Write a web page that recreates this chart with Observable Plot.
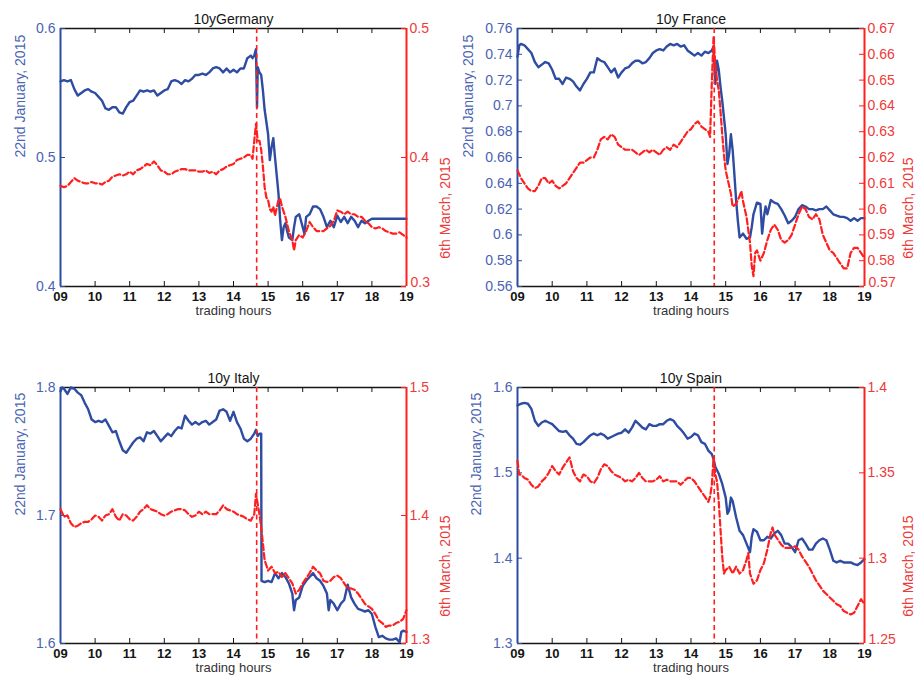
<!DOCTYPE html>
<html><head><meta charset="utf-8">
<script src="https://cdn.jsdelivr.net/npm/d3@7"></script>
<script src="https://cdn.jsdelivr.net/npm/@observablehq/plot@0.6"></script>
<style>
body{margin:0;background:#fff;}
#fig{position:relative;width:917px;height:679px;font-family:"Liberation Sans",Arial,sans-serif;}
.panel{position:absolute;}
.panel svg{position:absolute;left:0;top:0;overflow:visible;}
</style></head><body><div id="fig"></div><script>
// ---------- data: [trading hour, yield] ----------
const hourTicks = [9,10,11,12,13,14,15,16,17,18,19];
const announcementHour = 14.67;

const deTitle = "10yGermany", frTitle = "10y France", itTitle = "10y Italy", esTitle = "10y Spain";
const janLabel = "22nd January, 2015", marLabel = "6th March, 2015", xLabel = "trading hours";

const deJanTicks = [0.4,0.5,0.6];
const deMarTicks = [0.3,0.4,0.5];
const frJanTicks = [0.56,0.58,0.6,0.62,0.64,0.66,0.68,0.7,0.72,0.74,0.76];
const frMarTicks = [0.57,0.58,0.59,0.6,0.61,0.62,0.63,0.64,0.65,0.66,0.67];
const itJanTicks = [1.6,1.7,1.8];
const itMarTicks = [1.3,1.4,1.5];
const esJanTicks = [1.3,1.4,1.5,1.6];
const esMarTicks = [1.25,1.3,1.35,1.4];

const deJan = [[9.0,0.559],[9.1,0.560],[9.2,0.559],[9.3,0.560],[9.4,0.553],[9.5,0.548],[9.6,0.550],[9.7,0.552],[9.8,0.553],[9.9,0.551],
[10.0,0.550],[10.1,0.547],[10.2,0.544],[10.3,0.538],[10.4,0.537],[10.5,0.539],[10.6,0.539],[10.7,0.535],[10.8,0.534],[10.9,0.539],
[11.0,0.543],[11.1,0.544],[11.2,0.548],[11.3,0.552],[11.4,0.551],[11.5,0.552],[11.6,0.551],[11.7,0.552],[11.8,0.548],[11.9,0.550],
[12.0,0.552],[12.1,0.553],[12.2,0.559],[12.3,0.560],[12.4,0.559],[12.5,0.557],[12.6,0.560],[12.7,0.559],[12.8,0.561],[12.9,0.564],
[13.0,0.564],[13.1,0.565],[13.2,0.564],[13.3,0.566],[13.4,0.569],[13.5,0.570],[13.6,0.569],[13.7,0.566],[13.8,0.569],[13.9,0.566],
[14.0,0.568],[14.1,0.566],[14.2,0.569],[14.3,0.569],[14.4,0.577],[14.5,0.579],[14.55,0.577],[14.6,0.579],[14.65,0.584],[14.68,0.539],[14.7,0.570],[14.75,0.566],[14.8,0.564],[14.85,0.552],[14.9,0.537],
[15.0,0.518],[15.05,0.498],[15.1,0.508],[15.15,0.515],[15.2,0.500],[15.3,0.472],[15.35,0.451],[15.4,0.436],[15.45,0.446],[15.5,0.449],[15.55,0.443],[15.6,0.438],[15.7,0.436],[15.75,0.446],[15.8,0.454],[15.9,0.456],
[16.0,0.446],[16.05,0.441],[16.1,0.454],[16.2,0.456],[16.3,0.462],[16.4,0.462],[16.5,0.460],[16.6,0.454],[16.7,0.446],[16.8,0.451],[16.9,0.446],
[17.0,0.455],[17.1,0.450],[17.2,0.454],[17.3,0.449],[17.4,0.454],[17.5,0.451],[17.6,0.446],[17.7,0.451],[17.8,0.449],[17.9,0.451],[18.0,0.4525],[19.0,0.4525]];

const deMar = [[9.0,0.378],[9.1,0.377],[9.2,0.378],[9.3,0.381],[9.4,0.384],[9.5,0.382],[9.6,0.381],[9.7,0.380],[9.8,0.380],[9.9,0.381],
[10.0,0.380],[10.1,0.380],[10.2,0.379],[10.3,0.381],[10.4,0.382],[10.5,0.385],[10.6,0.386],[10.7,0.387],[10.8,0.386],[10.9,0.387],
[11.0,0.389],[11.1,0.387],[11.2,0.390],[11.3,0.391],[11.4,0.393],[11.5,0.395],[11.6,0.394],[11.7,0.397],[11.8,0.394],[11.9,0.390],
[12.0,0.389],[12.1,0.387],[12.2,0.387],[12.3,0.389],[12.4,0.390],[12.5,0.391],[12.6,0.391],[12.7,0.390],[12.8,0.390],[12.9,0.390],
[13.0,0.389],[13.1,0.389],[13.2,0.390],[13.3,0.388],[13.4,0.389],[13.5,0.387],[13.6,0.390],[13.7,0.391],[13.8,0.393],[13.9,0.394],
[14.0,0.395],[14.1,0.398],[14.2,0.399],[14.3,0.400],[14.4,0.402],[14.5,0.402],[14.55,0.399],[14.6,0.413],[14.65,0.426],[14.7,0.413],[14.75,0.413],[14.8,0.406],[14.85,0.393],[14.9,0.377],[14.95,0.369],
[15.0,0.367],[15.05,0.360],[15.1,0.358],[15.15,0.362],[15.2,0.355],[15.3,0.367],[15.35,0.368],[15.4,0.362],[15.5,0.354],[15.6,0.343],[15.7,0.336],[15.75,0.328],[15.8,0.336],[15.9,0.340],
[16.0,0.338],[16.1,0.343],[16.2,0.350],[16.3,0.346],[16.4,0.343],[16.5,0.343],[16.6,0.343],[16.7,0.345],[16.8,0.347],[16.9,0.351],
[17.0,0.359],[17.1,0.358],[17.2,0.356],[17.3,0.358],[17.4,0.356],[17.5,0.356],[17.6,0.354],[17.7,0.354],[17.8,0.351],[17.9,0.349],
[18.0,0.346],[18.1,0.345],[18.2,0.346],[18.3,0.345],[18.4,0.343],[18.5,0.342],[18.6,0.341],[18.7,0.341],[18.8,0.342],[18.9,0.340],[19.0,0.338]];

const frJan = [[9.0,0.738],[9.05,0.747],[9.1,0.748],[9.2,0.747],[9.3,0.744],[9.4,0.741],[9.5,0.734],[9.6,0.730],[9.7,0.732],[9.8,0.734],[9.9,0.733],
[10.0,0.728],[10.1,0.721],[10.2,0.721],[10.3,0.717],[10.4,0.722],[10.5,0.721],[10.6,0.719],[10.7,0.715],[10.8,0.712],[10.9,0.717],
[11.0,0.721],[11.1,0.726],[11.2,0.726],[11.3,0.737],[11.4,0.735],[11.5,0.734],[11.6,0.730],[11.7,0.726],[11.8,0.729],[11.9,0.722],
[12.0,0.726],[12.1,0.729],[12.2,0.730],[12.3,0.733],[12.4,0.735],[12.5,0.735],[12.6,0.733],[12.7,0.734],[12.8,0.737],[12.9,0.741],
[13.0,0.743],[13.1,0.744],[13.2,0.743],[13.3,0.746],[13.4,0.748],[13.5,0.747],[13.6,0.748],[13.7,0.746],[13.8,0.747],[13.9,0.743],
[14.0,0.741],[14.1,0.739],[14.2,0.741],[14.3,0.739],[14.4,0.742],[14.5,0.741],[14.6,0.743],[14.65,0.746],[14.7,0.717],[14.75,0.735],[14.8,0.728],[14.85,0.715],[14.9,0.704],
[15.0,0.678],[15.05,0.655],[15.1,0.663],[15.15,0.678],[15.2,0.666],[15.25,0.647],[15.3,0.627],[15.35,0.611],[15.4,0.598],[15.5,0.601],[15.6,0.597],[15.7,0.598],[15.75,0.606],[15.8,0.616],[15.9,0.625],
[16.0,0.624],[16.05,0.601],[16.1,0.614],[16.15,0.622],[16.2,0.616],[16.3,0.627],[16.4,0.625],[16.5,0.624],[16.6,0.620],[16.7,0.615],[16.8,0.609],[16.9,0.611],
[17.0,0.614],[17.1,0.620],[17.2,0.623],[17.3,0.622],[17.4,0.620],[17.5,0.620],[17.6,0.619],[17.7,0.620],[17.8,0.620],[17.9,0.622],
[18.0,0.619],[18.1,0.616],[18.2,0.615],[18.3,0.614],[18.4,0.614],[18.5,0.613],[18.6,0.611],[18.7,0.613],[18.8,0.611],[18.9,0.613],[19.0,0.613]];

const frMar = [[9.0,0.615],[9.1,0.612],[9.2,0.610],[9.3,0.608],[9.4,0.607],[9.5,0.607],[9.6,0.609],[9.7,0.612],[9.8,0.612],[9.9,0.610],
[10.0,0.611],[10.1,0.609],[10.2,0.608],[10.3,0.609],[10.4,0.610],[10.5,0.612],[10.6,0.614],[10.7,0.616],[10.8,0.618],[10.9,0.618],
[11.0,0.619],[11.1,0.620],[11.2,0.620],[11.3,0.623],[11.4,0.627],[11.5,0.628],[11.6,0.627],[11.7,0.629],[11.8,0.628],[11.9,0.625],
[12.0,0.624],[12.1,0.623],[12.2,0.623],[12.3,0.623],[12.4,0.622],[12.5,0.621],[12.6,0.622],[12.7,0.623],[12.8,0.622],[12.9,0.623],
[13.0,0.622],[13.1,0.621],[13.2,0.623],[13.3,0.624],[13.4,0.623],[13.5,0.625],[13.6,0.624],[13.7,0.626],[13.8,0.628],[13.9,0.630],
[14.0,0.631],[14.1,0.633],[14.2,0.634],[14.3,0.632],[14.4,0.631],[14.5,0.630],[14.55,0.628],[14.6,0.649],[14.65,0.667],[14.7,0.656],[14.75,0.650],[14.8,0.646],[14.85,0.638],[14.9,0.629],[14.95,0.621],
[15.0,0.615],[15.05,0.612],[15.1,0.609],[15.15,0.606],[15.2,0.601],[15.3,0.602],[15.4,0.605],[15.45,0.607],[15.5,0.603],[15.6,0.597],[15.7,0.587],[15.75,0.578],[15.8,0.574],[15.85,0.583],[15.9,0.584],
[16.0,0.580],[16.1,0.583],[16.2,0.588],[16.3,0.592],[16.4,0.594],[16.5,0.592],[16.6,0.588],[16.7,0.587],[16.8,0.588],[16.9,0.590],
[17.0,0.594],[17.1,0.598],[17.2,0.601],[17.3,0.600],[17.4,0.597],[17.5,0.596],[17.6,0.598],[17.7,0.596],[17.8,0.590],[17.9,0.587],
[18.0,0.584],[18.1,0.583],[18.2,0.581],[18.3,0.579],[18.4,0.577],[18.5,0.577],[18.6,0.583],[18.7,0.585],[18.8,0.585],[18.9,0.583],[19.0,0.581]];

const itJan = [[9.0,1.797],[9.05,1.800],[9.1,1.799],[9.2,1.795],[9.3,1.800],[9.4,1.799],[9.5,1.796],[9.6,1.794],[9.7,1.788],[9.8,1.783],[9.9,1.775],
[10.0,1.773],[10.1,1.774],[10.2,1.773],[10.3,1.775],[10.4,1.770],[10.5,1.765],[10.6,1.766],[10.7,1.758],[10.8,1.751],[10.9,1.749],
[11.0,1.753],[11.1,1.757],[11.2,1.760],[11.3,1.761],[11.4,1.758],[11.5,1.765],[11.6,1.764],[11.7,1.766],[11.8,1.762],[11.9,1.758],
[12.0,1.761],[12.1,1.764],[12.2,1.762],[12.3,1.766],[12.4,1.769],[12.5,1.768],[12.6,1.778],[12.7,1.774],[12.8,1.771],[12.9,1.773],
[13.0,1.771],[13.1,1.773],[13.2,1.774],[13.3,1.771],[13.4,1.773],[13.5,1.775],[13.6,1.782],[13.7,1.783],[13.8,1.781],[13.9,1.774],
[14.0,1.781],[14.1,1.773],[14.2,1.768],[14.3,1.760],[14.4,1.758],[14.5,1.760],[14.6,1.764],[14.65,1.767],[14.7,1.762],[14.75,1.764],[14.8,1.764],[14.81,1.649],[14.9,1.648],
[15.0,1.649],[15.1,1.648],[15.2,1.655],[15.3,1.651],[15.4,1.655],[15.5,1.652],[15.6,1.647],[15.7,1.639],[15.75,1.626],[15.8,1.634],[15.9,1.636],
[16.0,1.645],[16.1,1.649],[16.2,1.652],[16.3,1.655],[16.4,1.651],[16.5,1.649],[16.6,1.645],[16.7,1.639],[16.75,1.626],[16.8,1.634],[16.9,1.631],
[17.0,1.626],[17.1,1.631],[17.2,1.634],[17.3,1.646],[17.4,1.636],[17.5,1.631],[17.6,1.627],[17.7,1.626],[17.8,1.625],[17.9,1.626],
[18.0,1.623],[18.1,1.613],[18.2,1.605],[18.3,1.606],[18.4,1.604],[18.5,1.603],[18.6,1.603],[18.7,1.604],[18.8,1.601],[18.85,1.609],[18.9,1.610],[19.0,1.609]];

const itMar = [[9.0,1.405],[9.1,1.399],[9.2,1.400],[9.3,1.394],[9.4,1.391],[9.5,1.392],[9.6,1.394],[9.7,1.395],[9.8,1.395],[9.9,1.397],
[10.0,1.400],[10.1,1.399],[10.2,1.396],[10.3,1.400],[10.4,1.401],[10.5,1.405],[10.6,1.399],[10.7,1.396],[10.8,1.401],[10.9,1.400],
[11.0,1.397],[11.1,1.396],[11.2,1.399],[11.3,1.403],[11.4,1.405],[11.5,1.408],[11.6,1.405],[11.7,1.404],[11.8,1.403],[11.9,1.401],
[12.0,1.400],[12.1,1.401],[12.2,1.403],[12.3,1.404],[12.4,1.405],[12.5,1.405],[12.6,1.404],[12.7,1.401],[12.8,1.399],[12.9,1.400],
[13.0,1.403],[13.1,1.401],[13.2,1.403],[13.3,1.401],[13.4,1.401],[13.5,1.401],[13.6,1.404],[13.7,1.408],[13.8,1.405],[13.9,1.404],
[14.0,1.403],[14.1,1.401],[14.2,1.400],[14.3,1.399],[14.4,1.397],[14.5,1.396],[14.6,1.401],[14.65,1.417],[14.7,1.409],[14.75,1.401],[14.8,1.391],[14.85,1.378],[14.9,1.365],
[15.0,1.357],[15.1,1.360],[15.2,1.355],[15.3,1.356],[15.4,1.352],[15.5,1.355],[15.6,1.351],[15.7,1.347],[15.8,1.339],[15.9,1.342],
[16.0,1.347],[16.1,1.351],[16.2,1.355],[16.3,1.360],[16.4,1.357],[16.5,1.355],[16.6,1.349],[16.7,1.348],[16.8,1.349],[16.9,1.352],
[17.0,1.353],[17.1,1.351],[17.2,1.347],[17.3,1.343],[17.4,1.343],[17.5,1.342],[17.6,1.339],[17.7,1.335],[17.8,1.331],[17.9,1.329],
[18.0,1.327],[18.1,1.323],[18.2,1.318],[18.3,1.316],[18.4,1.313],[18.5,1.314],[18.6,1.314],[18.7,1.316],[18.8,1.317],[18.9,1.319],[19.0,1.326]];

const esJan = [[9.0,1.579],[9.1,1.581],[9.2,1.582],[9.3,1.581],[9.4,1.575],[9.5,1.561],[9.6,1.555],[9.7,1.559],[9.8,1.561],[9.9,1.559],
[10.0,1.557],[10.1,1.553],[10.2,1.549],[10.3,1.548],[10.4,1.549],[10.5,1.544],[10.6,1.540],[10.7,1.534],[10.8,1.533],[10.9,1.536],
[11.0,1.540],[11.1,1.544],[11.2,1.546],[11.3,1.544],[11.4,1.546],[11.5,1.544],[11.6,1.540],[11.7,1.542],[11.8,1.544],[11.9,1.546],
[12.0,1.547],[12.1,1.551],[12.2,1.547],[12.3,1.553],[12.4,1.561],[12.5,1.557],[12.6,1.553],[12.7,1.551],[12.8,1.557],[12.9,1.555],
[13.0,1.555],[13.1,1.557],[13.2,1.557],[13.3,1.561],[13.4,1.563],[13.5,1.561],[13.6,1.555],[13.7,1.551],[13.8,1.546],[13.9,1.540],
[14.0,1.542],[14.1,1.546],[14.2,1.544],[14.3,1.536],[14.4,1.534],[14.5,1.526],[14.6,1.522],[14.65,1.516],[14.7,1.507],[14.75,1.503],[14.8,1.499],[14.9,1.487],
[15.0,1.471],[15.05,1.452],[15.1,1.456],[15.15,1.471],[15.2,1.467],[15.3,1.448],[15.4,1.432],[15.5,1.427],[15.6,1.417],[15.7,1.407],[15.75,1.425],[15.8,1.434],[15.9,1.431],
[16.0,1.421],[16.1,1.421],[16.2,1.425],[16.3,1.423],[16.4,1.429],[16.5,1.432],[16.6,1.427],[16.7,1.417],[16.8,1.417],[16.9,1.413],
[17.0,1.407],[17.1,1.421],[17.2,1.423],[17.3,1.417],[17.4,1.410],[17.5,1.410],[17.6,1.417],[17.7,1.421],[17.8,1.423],[17.9,1.421],
[18.0,1.410],[18.1,1.397],[18.2,1.395],[18.3,1.397],[18.4,1.395],[18.5,1.395],[18.6,1.395],[18.7,1.393],[18.8,1.392],[18.9,1.395],[19.0,1.399]];

const esMar = [[9.0,1.357],[9.05,1.349],[9.1,1.349],[9.2,1.347],[9.3,1.346],[9.4,1.343],[9.5,1.341],[9.6,1.342],[9.7,1.345],[9.8,1.347],[9.9,1.350],
[10.0,1.354],[10.1,1.351],[10.2,1.349],[10.3,1.353],[10.4,1.356],[10.5,1.359],[10.6,1.351],[10.7,1.347],[10.8,1.345],[10.9,1.349],
[11.0,1.348],[11.1,1.345],[11.2,1.344],[11.3,1.347],[11.4,1.352],[11.5,1.355],[11.6,1.354],[11.7,1.351],[11.8,1.349],[11.9,1.348],
[12.0,1.347],[12.1,1.345],[12.2,1.346],[12.3,1.345],[12.4,1.347],[12.5,1.350],[12.6,1.347],[12.7,1.345],[12.8,1.345],[12.9,1.345],
[13.0,1.346],[13.1,1.348],[13.2,1.345],[13.3,1.346],[13.4,1.345],[13.5,1.345],[13.6,1.345],[13.7,1.343],[13.8,1.345],[13.9,1.347],
[14.0,1.347],[14.1,1.345],[14.2,1.342],[14.3,1.339],[14.4,1.336],[14.5,1.333],[14.55,1.336],[14.6,1.343],[14.65,1.359],[14.7,1.349],[14.75,1.345],[14.8,1.333],[14.85,1.317],[14.9,1.301],[14.95,1.291],
[15.0,1.293],[15.1,1.295],[15.2,1.291],[15.3,1.295],[15.4,1.291],[15.5,1.293],[15.6,1.299],[15.65,1.303],[15.7,1.291],[15.8,1.285],[15.9,1.287],
[16.0,1.293],[16.1,1.297],[16.2,1.305],[16.3,1.315],[16.35,1.318],[16.4,1.314],[16.5,1.311],[16.6,1.308],[16.7,1.306],[16.8,1.306],[16.9,1.306],
[17.0,1.307],[17.1,1.305],[17.2,1.301],[17.3,1.298],[17.4,1.295],[17.5,1.291],[17.6,1.287],[17.7,1.284],[17.8,1.281],[17.9,1.279],
[18.0,1.277],[18.1,1.275],[18.2,1.273],[18.3,1.272],[18.4,1.269],[18.5,1.268],[18.6,1.267],[18.7,1.268],[18.8,1.272],[18.9,1.276],[19.0,1.273]];

// ---------- drawing ----------
const BLUE = "#2d4ca2", BLUE_TXT = "#4a63b3", RED = "#ff1f1f", RED_TXT = "#ee3a3a", INK = "#151515";
const FONT = "'Liberation Sans', Arial, sans-serif";
const fmt = d => String(Math.round(d * 1000) / 1000);
const hourFmt = d => String(d).padStart(2, "0");

const panels = [
  {title: deTitle, jan: deJan, mar: deMar, janTicks: deJanTicks, marTicks: deMarTicks,
   left: 0, top: 0, width: 458, height: 330, m: {top: 28, right: 52, bottom: 44, left: 60}, janOff: 40, marOff: 39},
  {title: frTitle, jan: frJan, mar: frMar, janTicks: frJanTicks, marTicks: frMarTicks,
   left: 458, top: 0, width: 459, height: 330, m: {top: 28, right: 53, bottom: 44, left: 59}, janOff: 49, marOff: 44},
  {title: itTitle, jan: itJan, mar: itMar, janTicks: itJanTicks, marTicks: itMarTicks,
   left: 0, top: 340, width: 458, height: 339, m: {top: 47, right: 52, bottom: 36, left: 60}, janOff: 40, marOff: 39},
  {title: esTitle, jan: esJan, mar: esMar, janTicks: esJanTicks, marTicks: esMarTicks,
   left: 458, top: 340, width: 459, height: 339, m: {top: 47, right: 53, bottom: 36, left: 59}, janOff: 41, marOff: 44}
];

const fig = document.getElementById("fig");
for (const p of panels) {
  const pw = p.width - p.m.left - p.m.right, ph = p.height - p.m.top - p.m.bottom;
  const janDomain = d3.extent(p.janTicks), marDomain = d3.extent(p.marTicks);
  const base = {
    width: p.width, height: p.height,
    marginTop: p.m.top, marginRight: p.m.right, marginBottom: p.m.bottom, marginLeft: p.m.left,
    style: {fontFamily: FONT, fontSize: "14px", background: "transparent", overflow: "visible"}
  };
  const janPlot = Plot.plot({
    ...base,
    x: {domain: [9, 19], axis: null},
    y: {domain: janDomain, axis: null},
    marks: [
      Plot.ruleY(janDomain, {y: d => d, stroke: INK, strokeWidth: 1.3}),
      Plot.tickX(hourTicks, {x: d => d, insetTop: ph - 5, stroke: INK}),
      Plot.tickX(hourTicks, {x: d => d, insetBottom: ph - 5, stroke: INK}),
      Plot.tickY(p.janTicks, {y: d => d, insetRight: pw - 5, stroke: BLUE}),
      Plot.line(p.jan, {x: d => d[0], y: d => d[1], stroke: BLUE, strokeWidth: 2.4}),
      Plot.ruleX([9], {x: d => d, stroke: BLUE, strokeWidth: 2}),
      Plot.axisX(hourTicks, {anchor: "bottom", tickSize: 0, tickPadding: 5, tickFormat: hourFmt, color: INK, fontSize: 13, fontWeight: "bold", label: null}),
      Plot.axisY(p.janTicks, {anchor: "left", tickSize: 0, tickPadding: 5, tickFormat: fmt, color: BLUE_TXT, fontSize: 14, label: null}),
      Plot.text([p.title], {text: d => d, frameAnchor: "top", dy: -14, fill: INK, fontSize: 14}),
      Plot.text([xLabel], {text: d => d, frameAnchor: "bottom", dy: 28, fill: "#333", fontSize: 13}),
      Plot.text([janLabel], {text: d => d, frameAnchor: "left", dx: -p.janOff, rotate: -90, fill: BLUE_TXT, fontSize: 14})
    ]
  });
  const marLow = p.marTicks.slice(0, 1), marRest = p.marTicks.slice(1);
  const marPlot = Plot.plot({
    ...base,
    x: {domain: [9, 19], axis: null},
    y: {domain: marDomain, axis: null},
    marks: [
      Plot.tickY(p.marTicks, {y: d => d, insetLeft: pw - 5, stroke: RED}),
      Plot.ruleX([announcementHour], {x: d => d, stroke: RED, strokeWidth: 1.6, strokeDasharray: "5,3.5"}),
      Plot.line(p.mar, {x: d => d[0], y: d => d[1], stroke: RED, strokeWidth: 2.2, strokeDasharray: "6,3"}),
      Plot.ruleX([19], {x: d => d, stroke: RED, strokeWidth: 2}),
      Plot.axisY(marRest, {anchor: "right", tickSize: 0, tickPadding: 3, tickFormat: fmt, color: RED_TXT, fontSize: 14, label: null}),
      Plot.axisY(marLow, {anchor: "right", tickSize: 0, tickPadding: 4, tickFormat: fmt, color: RED_TXT, fontSize: 14, dy: -4, label: null}),
      Plot.text([marLabel], {text: d => d, frameAnchor: "right", dx: p.marOff, rotate: -90, fill: RED_TXT, fontSize: 14})
    ]
  });
  const div = document.createElement("div");
  div.className = "panel";
  div.style.left = p.left + "px";
  div.style.top = p.top + "px";
  div.style.width = p.width + "px";
  div.style.height = p.height + "px";
  div.appendChild(janPlot);
  div.appendChild(marPlot);
  fig.appendChild(div);
}
</script></body></html>
